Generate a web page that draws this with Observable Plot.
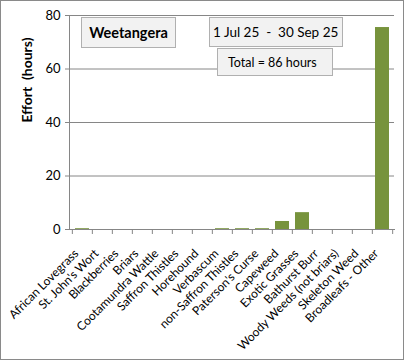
<!DOCTYPE html>
<html><head><meta charset="utf-8">
<script src="https://cdn.jsdelivr.net/npm/d3@7"></script>
<script src="https://cdn.jsdelivr.net/npm/@observablehq/plot@0.6"></script>
<style>
html,body{margin:0;padding:0;background:#fff;}
#wrap{position:relative;width:404px;height:360px;overflow:hidden;font-family:Lato,"Open Sans",sans-serif;}
#border{position:absolute;left:0;top:0;width:404px;height:360px;box-sizing:border-box;border:1px solid #8a8a8a;pointer-events:none;}
#chart{position:absolute;left:0;top:0;}
.box{position:absolute;box-sizing:border-box;background:#f2f2f2;border:1px solid #b0b0b0;color:#000;display:flex;align-items:center;white-space:pre;}
</style></head>
<body>
<div id="wrap">
  <div id="chart"></div>
  <div class="box" id="b1" style="left:81px;top:17px;width:95px;height:31px;justify-content:center;font-weight:bold;font-size:14.5px;"></div>
  <div class="box" id="b2" style="left:209px;top:17px;width:134px;height:30px;padding-left:3px;font-size:13.5px;"></div>
  <div class="box" id="b3" style="left:217px;top:48px;width:116px;height:28px;padding-left:10px;font-size:12.5px;"></div>
  <div id="border"></div>
</div>
<script>
const categories = ["African Lovegrass","St. John's Wort","Blackberries","Briars","Cootamundra Wattle","Saffron Thistles","Horehound","Verbascum","non-Saffron Thistles","Paterson's Curse","Capeweed","Exotic Grasses","Bathurst Burr","Woody Weeds (not briars)","Skeleton Weed","Broadleafs - Other"];
const values = [0.3, 0, 0, 0, 0, 0, 0, 0.3, 0.3, 0.3, 3.0, 6.3, 0, 0, 0, 75.5];
const yTicks = [0, 20, 40, 60, 80];
const siteName = "Weetangera";
const periodText = "1 Jul 25  -  30 Sep 25";
const totalText = "Total = 86 hours";
const yTitle = "Effort  (hours)";

document.getElementById("b1").textContent = siteName;
document.getElementById("b2").textContent = periodText;
document.getElementById("b3").textContent = totalText;

const data = categories.map((c, i) => ({cat: c, val: values[i]}));
const W = 404, ML = 69, MR = 10;
const step = (W - ML - MR) / categories.length;
const grey = "#868686";

const chart = Plot.plot({
  width: W, height: 360,
  marginLeft: ML, marginRight: MR, marginTop: 15, marginBottom: 131,
  style: {fontFamily: "Lato, 'Open Sans', sans-serif", fontSize: "12px", color: "#000", background: "transparent", overflow: "visible"},
  x: {domain: categories, paddingInner: 0.3, paddingOuter: 0.15, label: null},
  y: {domain: [0, 80], label: null},
  marks: [
    Plot.gridY(yTicks, {stroke: grey, strokeOpacity: 1}),
    Plot.barY(data, {x: "cat", y: "val", fill: "#77933C"}),
    Plot.frame({anchor: "left", stroke: grey}),
    Plot.frame({anchor: "bottom", stroke: grey}),
    Plot.axisY({ticks: yTicks, tickSize: 4, stroke: grey, tickFormat: () => ""}),
    Plot.axisY({ticks: yTicks, tickSize: 0, tickPadding: 9, label: null, fontSize: 13}),
    Plot.axisX({tickSize: 5, stroke: grey, tickFormat: () => "", dx: -step / 2}),
    Plot.axisX([categories[categories.length - 1]], {tickSize: 5, stroke: grey, tickFormat: () => "", dx: step / 2}),
    Plot.axisX({tickSize: 0, tickRotate: -45, tickPadding: 16, dx: -6, dy: 6, label: null, fontSize: 12}),
    Plot.text([yTitle], {frameAnchor: "left", rotate: -90, dx: -42, fontWeight: "bold", fontSize: 14})
  ]
});
document.getElementById("chart").appendChild(chart);
</script>
</body></html>
